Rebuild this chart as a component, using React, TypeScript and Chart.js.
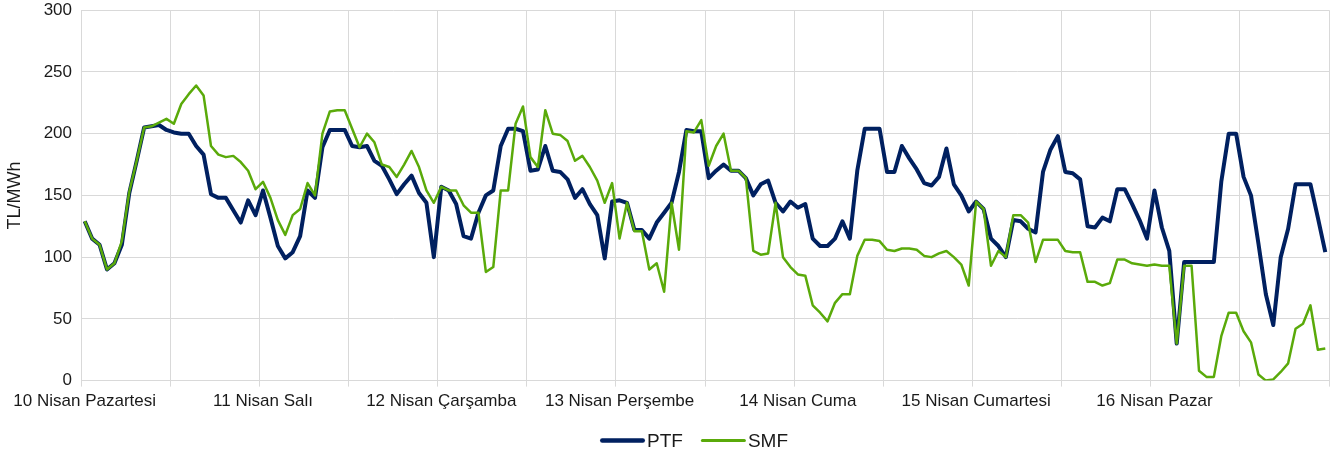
import { useEffect, useRef } from 'react';
import { Chart, registerables } from 'chart.js';

Chart.register(...registerables);

const days = [
  '10 Nisan Pazartesi',
  '11 Nisan Salı',
  '12 Nisan Çarşamba',
  '13 Nisan Perşembe',
  '14 Nisan Cuma',
  '15 Nisan Cumartesi',
  '16 Nisan Pazar',
];
const hoursPerDay = 24;

const ptf = [
  129, 115, 110, 90, 95, 110, 152, 178, 205, 206, 207, 203, 201, 200, 200, 190, 183, 151, 148, 148, 138, 128, 146, 134,
  154, 132, 109, 99, 104, 117, 154, 148, 189, 203, 203, 203, 190, 189, 190, 178, 174, 163, 151, 159, 166, 152, 144, 100,
  157, 154, 143, 117, 115, 136, 150, 154, 190, 204, 204, 202, 170, 171, 190, 170, 169, 163, 148, 155, 143, 134, 99, 145,
  146, 144, 122, 122, 115, 128, 136, 144, 169, 203, 202, 202, 164, 170, 175, 170, 170, 164, 150, 159, 162, 144, 137, 145,
  140, 143, 115, 109, 109, 115, 129, 115, 170, 204, 204, 204, 169, 169, 190, 180, 171, 160, 158, 165, 188, 159, 150, 137,
  145, 139, 115, 109, 100, 130, 129, 123, 120, 169, 187, 198, 169, 168, 163, 125, 124, 132, 129, 155, 155, 143, 130, 115,
  154, 124, 105, 30, 96, 96, 96, 96, 96, 161, 200, 200, 165, 150, 111, 70, 45, 100, 123, 159, 159, 159, 132, 104,
];

const smf = [
  129, 115, 110, 90, 95, 113, 153, 178, 205, 206, 209, 212, 208, 224, 232, 239, 231, 190, 183, 181, 182, 177, 170, 155,
  161, 148, 130, 118, 134, 139, 160, 150, 200, 218, 219, 219, 204, 189, 200, 193, 175, 173, 165, 175, 186, 173, 154, 144,
  157, 154, 154, 142, 136, 136, 88, 92, 154, 154, 208, 222, 181, 173, 219, 200, 199, 194, 178, 182, 173, 162, 144, 160,
  115, 144, 121, 121, 90, 95, 72, 144, 106, 202, 201, 211, 174, 190, 200, 170, 170, 164, 105, 102, 103, 144, 100, 92,
  86, 85, 61, 55, 48, 63, 70, 70, 101, 114, 114, 113, 106, 105, 107, 107, 106, 101, 100, 103, 105, 100, 94, 77,
  145, 139, 93, 105, 100, 134, 134, 128, 96, 114, 114, 114, 105, 104, 104, 80, 80, 77, 79, 98, 98, 95, 94, 93,
  94, 93, 93, 30, 93, 93, 8, 3, 3, 36, 55, 55, 40, 31, 5, 0, 1, 7, 14, 42, 46, 61, 25, 26,
];

const yMin = 0;
const yMax = 300;
const yStep = 50;

const FONT = '"Liberation Sans", Arial, sans-serif';
const TEXT = '#1a1a1a';
const GRID = '#d9d9d9';
const NAVY = '#002060';
const GREEN = '#5AAA0A';

// Legend drawn in the style of the original (long line sample, tight gap to text)
const legendPlugin = {
  id: 'lineLegend',
  afterDraw(chart: any) {
    const ctx = chart.ctx;
    const sampleW = 45;
    const gap = 2;
    const itemGap = 18;
    ctx.save();
    ctx.font = `19px ${FONT}`;
    ctx.textBaseline = 'middle';
    ctx.textAlign = 'left';
    const items = chart.data.datasets.map((ds: any) => ({
      label: ds.label,
      color: ds.borderColor,
      lw: ds.legendLineWidth,
      tw: ctx.measureText(ds.label).width,
    }));
    const total =
      items.reduce((s: number, it: any) => s + sampleW + gap + it.tw, 0) + itemGap * (items.length - 1);
    const cx = (chart.chartArea.left + chart.chartArea.right) / 2 - 11;
    const y = chart.chartArea.bottom + 60;
    let x = cx - total / 2;
    for (const it of items) {
      ctx.strokeStyle = it.color;
      ctx.lineWidth = it.lw;
      ctx.lineCap = 'round';
      ctx.beginPath();
      ctx.moveTo(x + it.lw / 2, y);
      ctx.lineTo(x + sampleW - it.lw / 2, y);
      ctx.stroke();
      ctx.fillStyle = TEXT;
      ctx.fillText(it.label, x + sampleW + gap, y + 1);
      x += sampleW + gap + it.tw + itemGap;
    }
    ctx.restore();
  },
};

export default function App() {
  const ref = useRef<HTMLCanvasElement>(null);

  useEffect(() => {
    document.body.style.margin = '0';
    const labels = ptf.map((_, i) => (i % hoursPerDay === 0 ? days[i / hoursPerDay] : ''));
    const chart = new Chart(ref.current!, {
      type: 'line',
      data: {
        labels,
        datasets: [
          {
            label: 'PTF',
            data: ptf,
            borderColor: NAVY,
            backgroundColor: NAVY,
            borderWidth: 4,
            pointRadius: 0,
            borderJoinStyle: 'round',
            order: 1,
            legendLineWidth: 4.5,
          } as any,
          {
            label: 'SMF',
            data: smf,
            borderColor: GREEN,
            backgroundColor: GREEN,
            borderWidth: 2.5,
            pointRadius: 0,
            borderJoinStyle: 'round',
            order: 0,
            legendLineWidth: 3,
          } as any,
        ],
      },
      plugins: [legendPlugin],
      options: {
        animation: false,
        responsive: false,
        devicePixelRatio: 1,
        layout: { padding: { left: 0, right: 10, top: 0, bottom: 39 } },
        plugins: {
          tooltip: { enabled: false },
          legend: { display: false },
        },
        scales: {
          x: {
            type: 'category',
            offset: true,
            grid: {
              offset: true,
              color: (ctx: any) =>
                ctx.index === undefined || ctx.index % 12 === 0 ? GRID : 'rgba(0,0,0,0)',
              tickLength: 6,
            },
            border: { color: GRID },
            ticks: {
              autoSkip: false,
              maxRotation: 0,
              minRotation: 0,
              font: { family: FONT, size: 17 },
              color: TEXT,
              padding: 5,
            },
          },
          y: {
            min: yMin,
            max: yMax,
            grid: { color: GRID, drawTicks: true, tickLength: 9, tickColor: 'rgba(0,0,0,0)' },
            border: { color: GRID },
            ticks: {
              stepSize: yStep,
              font: { family: FONT, size: 17 },
              color: TEXT,
              padding: 0,
            },
            title: {
              display: true,
              text: 'TL/MWh',
              font: { family: FONT, size: 18 },
              color: TEXT,
            },
            afterFit: (scale: any) => {
              scale.width = 81;
            },
          },
        },
      },
    });
    return () => chart.destroy();
  }, []);

  return <canvas ref={ref} width={1339} height={456} style={{ display: 'block' }} />;
}
